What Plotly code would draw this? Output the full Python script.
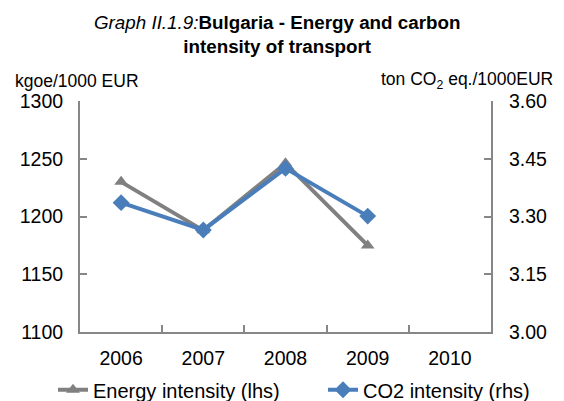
import plotly.graph_objects as go

years = ["2006", "2007", "2008", "2009", "2010"]
energy_years = ["2006", "2007", "2008", "2009"]
energy_intensity = [1230, 1188, 1246, 1175]
co2_years = ["2006", "2007", "2008", "2009"]
co2_intensity = [3.336, 3.265, 3.425, 3.301]

left_ticks = [1100, 1150, 1200, 1250, 1300]
right_ticks = [3.00, 3.15, 3.30, 3.45, 3.60]

FONT = "Liberation Sans, Arial, sans-serif"
AXIS_COLOR = "#878787"
TICK_SIZE = 19.5

fig = go.Figure()
fig.add_trace(go.Scatter(
    x=energy_years, y=energy_intensity, name="Energy intensity (lhs)",
    mode="lines+markers",
    line=dict(color="#808080", width=4),
    marker=dict(symbol="triangle-up", size=12, color="#808080"),
    yaxis="y", legendwidth=225,
))
fig.add_trace(go.Scatter(
    x=co2_years, y=co2_intensity, name="CO2 intensity (rhs)",
    mode="lines+markers",
    line=dict(color="#4A7EBB", width=4),
    marker=dict(symbol="diamond", size=13, color="#4A7EBB"),
    yaxis="y2",
))

fig.update_layout(
    template="none",
    width=564, height=401,
    margin=dict(l=72, r=81, t=93, b=77, autoexpand=False),
    paper_bgcolor="white", plot_bgcolor="white",
    font=dict(family=FONT, color="black"),
    showlegend=True,
    legend=dict(orientation="h",
                x=-0.0657, xanchor="left", y=-0.25, yanchor="middle",
                font=dict(size=20, family=FONT), bgcolor="rgba(0,0,0,0)",
                tracegroupgap=0),
    xaxis=dict(
        type="category", categoryorder="array", categoryarray=years,
        tickmode="array", tickvals=years, ticktext=years,
        range=[-0.5, 4.5], tickson="boundaries",
        ticks="inside", ticklen=7, tickcolor=AXIS_COLOR, tickwidth=1.5,
        showline=True, linecolor=AXIS_COLOR, linewidth=2,
        showgrid=False, zeroline=False, automargin=False,
        ticklabelstandoff=8,
        tickfont=dict(size=TICK_SIZE, family=FONT),
    ),
    yaxis=dict(
        range=[1100, 1300], tickvals=left_ticks,
        ticks="inside", ticklen=7, tickcolor=AXIS_COLOR, tickwidth=1.5,
        showline=True, linecolor=AXIS_COLOR, linewidth=2,
        showgrid=False, zeroline=False, automargin=False,
        ticklabelstandoff=11,
        tickfont=dict(size=TICK_SIZE, family=FONT),
    ),
    yaxis2=dict(
        range=[3.0, 3.6], tickvals=right_ticks, tickformat=".2f",
        overlaying="y", side="right",
        ticks="inside", ticklen=7, tickcolor=AXIS_COLOR, tickwidth=1.5,
        showline=True, linecolor=AXIS_COLOR, linewidth=2,
        showgrid=False, zeroline=False, automargin=False,
        ticklabelstandoff=12,
        tickfont=dict(size=TICK_SIZE, family=FONT),
    ),
    annotations=[
        dict(text="<i>Graph II.1.9:</i><b>Bulgaria - Energy and carbon<br>intensity of transport</b>",
             xref="paper", yref="paper", x=0.4805, y=1.288, xanchor="center", yanchor="middle",
             showarrow=False, font=dict(size=18.8, family=FONT)),
        dict(text="kgoe/1000 EUR", xref="paper", yref="paper", x=-0.163, y=1.087,
             xanchor="left", yanchor="middle", showarrow=False,
             font=dict(size=17.5, family=FONT)),
        dict(text="ton CO<sub>2</sub> eq./1000EUR", xref="paper", yref="paper", x=1.156, y=1.087,
             xanchor="right", yanchor="middle", showarrow=False,
             font=dict(size=17.5, family=FONT)),
    ],
)

fig.write_html("out.html")
